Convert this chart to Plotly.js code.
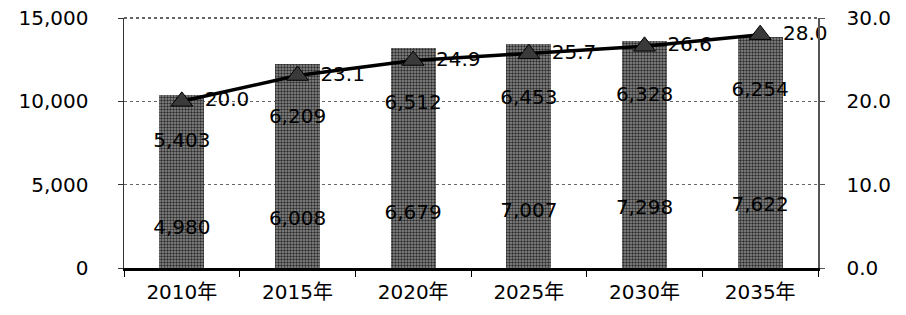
<!DOCTYPE html>
<html>
<head>
<meta charset="utf-8">
<script src="https://cdn.plot.ly/plotly-3.0.1.min.js"></script>
<style>html,body{margin:0;padding:0;background:#fff;}#chart{width:906px;height:315px;}</style>
</head>
<body>
<div id="chart"></div>
<script>
const years = ["2010年", "2015年", "2020年", "2025年", "2030年", "2035年"];
const lower = [4980, 6008, 6679, 7007, 7298, 7622];
const upper = [5403, 6209, 6512, 6453, 6328, 6254];
const ratio = [20.0, 23.1, 24.9, 25.7, 26.6, 28.0];
const ratioLabels = ["20.0", "23.1", "24.9", "25.7", "26.6", "28.0"];

const FONT = "DejaVu Sans, Noto Sans CJK JP, sans-serif";
const fmt = v => v.toLocaleString("en-US");

const barStyle = {
  color: "#6e6e6e",
  pattern: {shape: ".", fgcolor: "#2e2e2e", bgcolor: "#8e8e8e", size: 3, solidity: 0.5}
};

const traces = [
  {
    type: "bar", x: years, y: lower, name: "lower",
    marker: barStyle,
    text: lower.map(fmt), textposition: "inside", insidetextanchor: "middle",
    constraintext: "none", textangle: 0,
    textfont: {family: FONT, size: 20, color: "#000"},
    hoverinfo: "skip"
  },
  {
    type: "bar", x: years, y: upper, name: "upper",
    marker: barStyle,
    text: upper.map(fmt), textposition: "inside", insidetextanchor: "middle",
    constraintext: "none", textangle: 0,
    textfont: {family: FONT, size: 20, color: "#000"},
    hoverinfo: "skip"
  },
  {
    type: "scatter", mode: "lines+markers+text", x: years, y: ratio, yaxis: "y2",
    line: {color: "#000", width: 3.5},
    marker: {symbol: "triangle-up", size: 19, color: "#3a3a3a", line: {color: "#000", width: 1}},
    text: ratioLabels, texttemplate: "\u2002%{text}", textposition: "middle right",
    textfont: {family: FONT, size: 20, color: "#000"},
    cliponaxis: false,
    hoverinfo: "skip"
  }
];

const layout = {
  width: 906, height: 315,
  margin: {l: 124, r: 88, t: 18, b: 47},
  paper_bgcolor: "#fff", plot_bgcolor: "#fff",
  barmode: "stack", bargap: 0.61,
  showlegend: false,
  font: {family: FONT, size: 20, color: "#000"},
  xaxis: {
    type: "category", tickson: "boundaries", ticks: "outside", ticklen: 6, tickcolor: "#000",
    showline: true, linecolor: "#000", linewidth: 2.5,
    ticklabelstandoff: 4,
    tickfont: {family: FONT, size: 20, color: "#000"},
    showgrid: false
  },
  yaxis: {
    range: [0, 15000], dtick: 5000, tickformat: ",",
    showline: true, linecolor: "#333", linewidth: 1.5,
    ticks: "outside", ticklen: 5, tickcolor: "#333",
    showgrid: true, gridcolor: "#666", griddash: "dot", gridwidth: 1,
    zeroline: false,
    ticklabelstandoff: 25,
    tickfont: {family: FONT, size: 20, color: "#000"}
  },
  yaxis2: {
    range: [0, 30], dtick: 10, tickformat: ".1f", overlaying: "y", side: "right",
    showline: true, linecolor: "#555", linewidth: 1.5,
    ticks: "outside", ticklen: 5, tickcolor: "#555",
    showgrid: false, zeroline: false,
    ticklabelstandoff: 18,
    tickfont: {family: FONT, size: 20, color: "#000"}
  },
  shapes: [
    {type: "line", xref: "paper", yref: "paper", x0: 0, x1: 1, y0: 1, y1: 1,
     line: {color: "#333", width: 1.5, dash: "dot"}}
  ]
};

Plotly.newPlot("chart", traces, layout, {displayModeBar: false, staticPlot: true});
</script>
</body>
</html>
